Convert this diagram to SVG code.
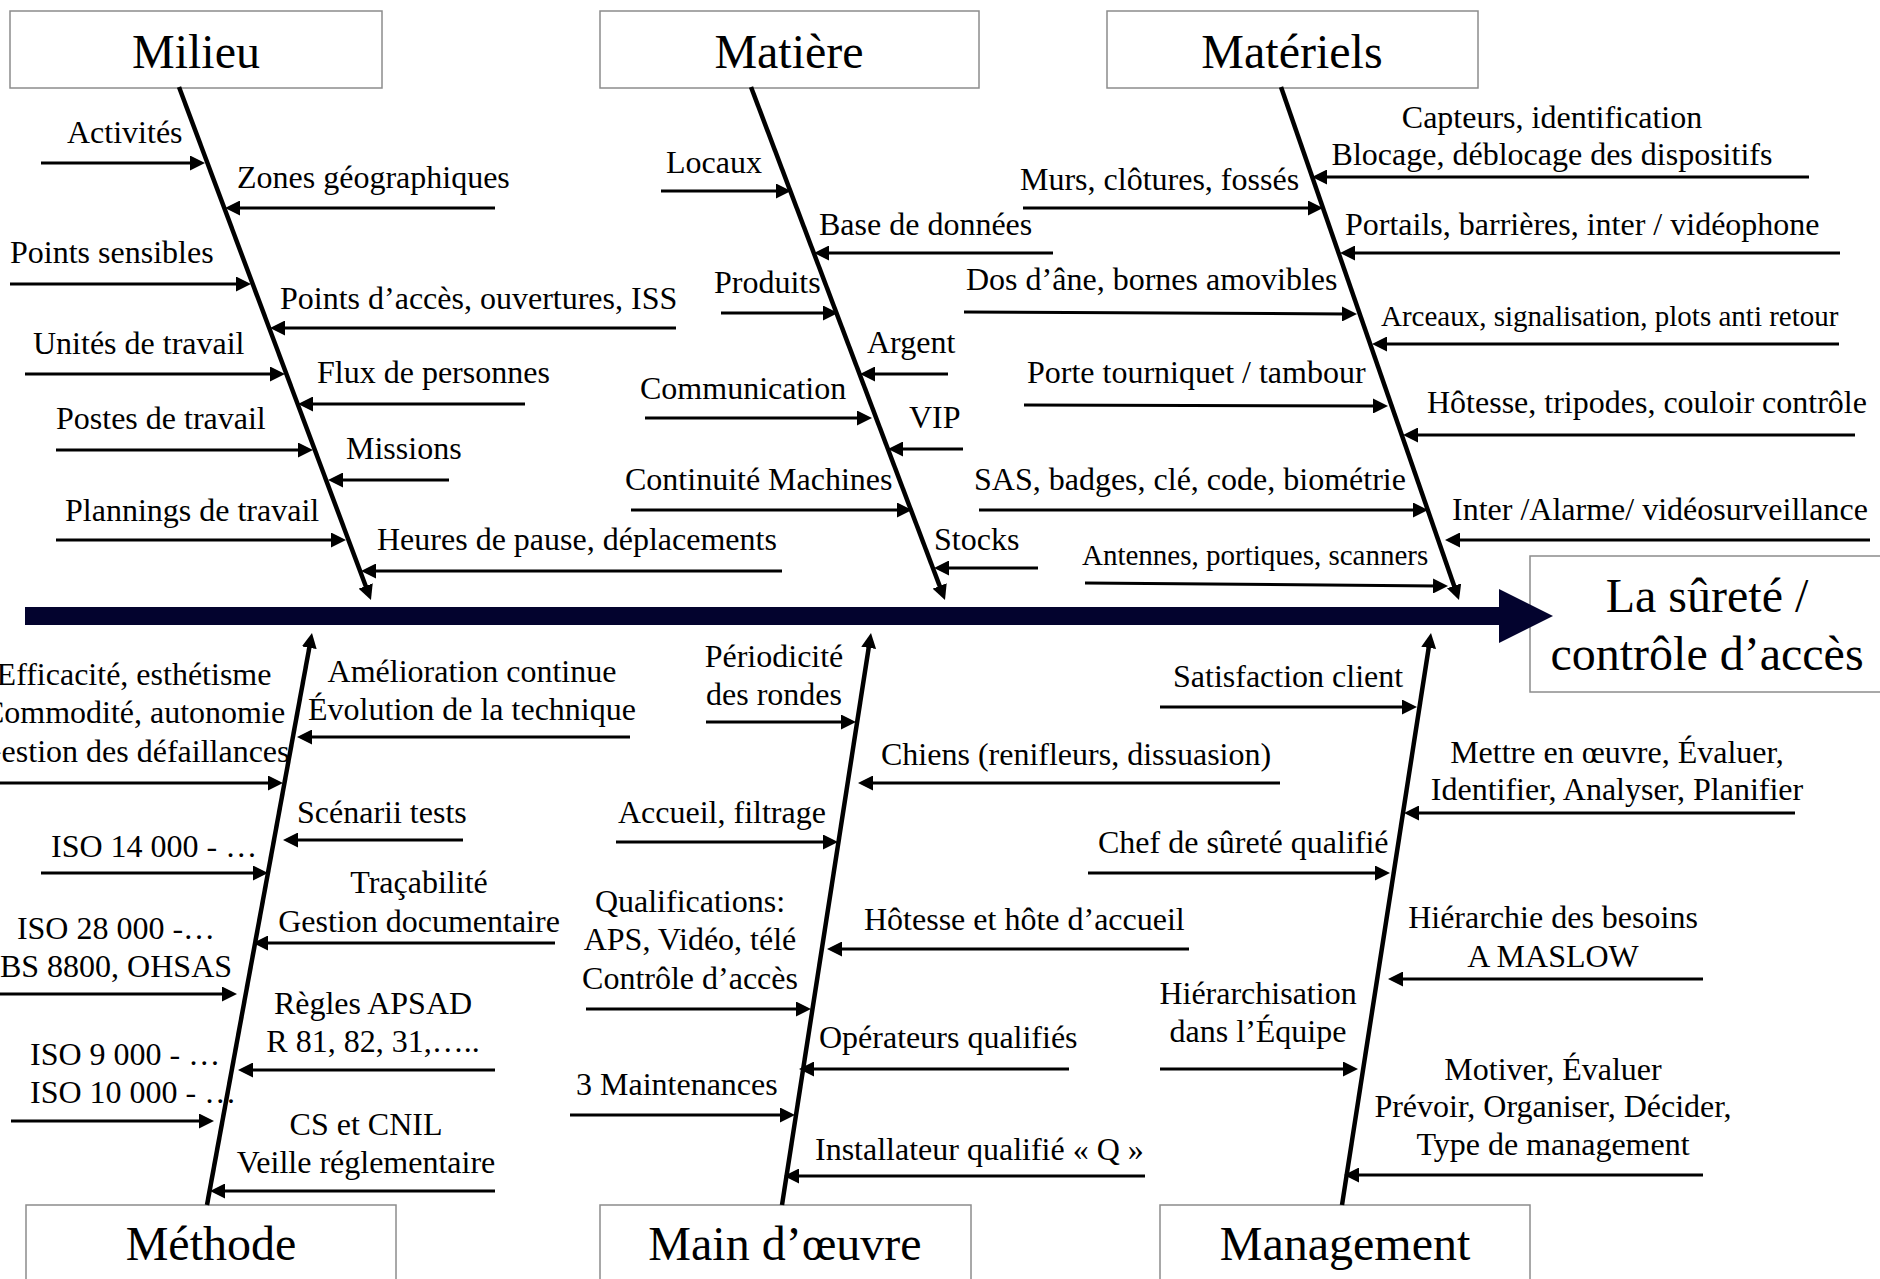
<svg xmlns="http://www.w3.org/2000/svg" width="1880" height="1279" viewBox="0 0 1880 1279">
<style>
text{font-family:"Liberation Serif","Times New Roman",serif;fill:#000}
.t{font-size:32px}
.s{font-size:29px}
.c{font-size:48px;text-anchor:middle}
.m{text-anchor:middle}
.box{fill:#fff;stroke:#8c8c8c;stroke-width:1.5}
.br{stroke:#000;stroke-width:3;fill:none;marker-end:url(#ah)}
.bone{stroke:#000;stroke-width:4.5;fill:none;marker-end:url(#ah)}
</style>
<defs>
<marker id="ah" markerUnits="userSpaceOnUse" markerWidth="15" markerHeight="15" refX="4" refY="7.5" orient="auto">
<path d="M0,0 L15,7.5 L0,15 z" fill="#000"/>
</marker>
</defs>
<rect width="1880" height="1279" fill="#fff"/>

<g id="effect">
<rect class="box" x="1530" y="556" width="400" height="136"/>
<text class="c" x="1707" y="612">La sûreté /</text>
<text class="c" x="1707" y="670">contrôle d’accès</text>
</g>

<g id="spine">
<rect x="25" y="607" width="1475" height="18" fill="#03032e"/>
<polygon points="1499,589 1553,616 1499,643" fill="#03032e"/>
</g>

<g id="milieu">
<rect class="box" x="10" y="11" width="372" height="77"/>
<text class="c" x="196" y="68">Milieu</text>
</g>
<g id="matiere">
<rect class="box" x="600" y="11" width="379" height="77"/>
<text class="c" x="789" y="68">Matière</text>
</g>
<g id="materiels">
<rect class="box" x="1107" y="11" width="371" height="77"/>
<text class="c" x="1292" y="68">Matériels</text>
</g>
<g id="methode">
<rect class="box" x="26" y="1205" width="370" height="90"/>
<text class="c" x="211" y="1260">Méthode</text>
</g>
<g id="main-oeuvre">
<rect class="box" x="600" y="1205" width="371" height="90"/>
<text class="c" x="785" y="1260">Main d’œuvre</text>
</g>
<g id="management">
<rect class="box" x="1160" y="1205" width="370" height="90"/>
<text class="c" x="1345" y="1260">Management</text>
</g>

<g id="connectors">
<line class="bone" x1="179" y1="87" x2="367.1" y2="589.7"/>
<line class="bone" x1="751" y1="87" x2="941.1" y2="589.7"/>
<line class="bone" x1="1281" y1="87" x2="1455.4" y2="589.6"/>
<line class="bone" x1="207" y1="1205" x2="310" y2="643.8"/>
<line class="bone" x1="782" y1="1205" x2="869.3" y2="643.9"/>
<line class="bone" x1="1342" y1="1205" x2="1429.3" y2="643.9"/>

<line class="br" x1="41" y1="163" x2="194" y2="163"/>
<line class="br" x1="495" y1="208" x2="236" y2="208"/>
<line class="br" x1="10" y1="284" x2="240" y2="284"/>
<line class="br" x1="676" y1="328" x2="281" y2="328"/>
<line class="br" x1="25" y1="374" x2="274" y2="374"/>
<line class="br" x1="525" y1="404" x2="309" y2="404"/>
<line class="br" x1="56" y1="450" x2="302" y2="450"/>
<line class="br" x1="449" y1="480" x2="339" y2="480"/>
<line class="br" x1="56" y1="540" x2="335" y2="540"/>
<line class="br" x1="782" y1="571" x2="372" y2="571"/>

<line class="br" x1="661" y1="191" x2="780" y2="191"/>
<line class="br" x1="1053" y1="253" x2="825" y2="253"/>
<line class="br" x1="721" y1="313" x2="827" y2="313"/>
<line class="br" x1="948" y1="374" x2="871" y2="374"/>
<line class="br" x1="645" y1="418" x2="861" y2="418"/>
<line class="br" x1="963" y1="449" x2="899" y2="449"/>
<line class="br" x1="631" y1="510" x2="901" y2="510"/>
<line class="br" x1="1038" y1="568" x2="945" y2="568"/>

<line class="br" x1="1809" y1="177" x2="1323" y2="177"/>
<line class="br" x1="1023" y1="208" x2="1312" y2="208"/>
<line class="br" x1="1840" y1="253" x2="1351" y2="253"/>
<line class="br" x1="964" y1="312" x2="1346" y2="314"/>
<line class="br" x1="1839" y1="344" x2="1383" y2="344"/>
<line class="br" x1="1024" y1="405" x2="1377" y2="406"/>
<line class="br" x1="1855" y1="435" x2="1414" y2="435"/>
<line class="br" x1="979" y1="510" x2="1417" y2="510"/>
<line class="br" x1="1870" y1="540" x2="1456" y2="540"/>
<line class="br" x1="1085" y1="583" x2="1437" y2="586"/>

<line class="br" x1="0" y1="783" x2="272" y2="783"/>
<line class="br" x1="630" y1="737" x2="308" y2="737"/>
<line class="br" x1="463" y1="840" x2="294" y2="840"/>
<line class="br" x1="41" y1="873" x2="257" y2="873"/>
<line class="br" x1="555" y1="943" x2="264" y2="943"/>
<line class="br" x1="0" y1="994" x2="226" y2="994"/>
<line class="br" x1="495" y1="1070" x2="249" y2="1070"/>
<line class="br" x1="11" y1="1121" x2="203" y2="1121"/>
<line class="br" x1="495" y1="1191" x2="221" y2="1191"/>

<line class="br" x1="706" y1="722" x2="845" y2="722"/>
<line class="br" x1="1280" y1="783" x2="869" y2="783"/>
<line class="br" x1="616" y1="842" x2="827" y2="842"/>
<line class="br" x1="586" y1="1009" x2="800" y2="1009"/>
<line class="br" x1="1189" y1="949" x2="838" y2="949"/>
<line class="br" x1="1069" y1="1069" x2="810" y2="1069"/>
<line class="br" x1="570" y1="1115" x2="784" y2="1115"/>
<line class="br" x1="1145" y1="1176" x2="795" y2="1176"/>

<line class="br" x1="1160" y1="707" x2="1406" y2="707"/>
<line class="br" x1="1795" y1="813" x2="1415" y2="813"/>
<line class="br" x1="1088" y1="873" x2="1379" y2="873"/>
<line class="br" x1="1703" y1="979" x2="1399" y2="979"/>
<line class="br" x1="1160" y1="1069" x2="1347" y2="1069"/>
<line class="br" x1="1703" y1="1175" x2="1355" y2="1175"/>
</g>

<g id="labels-milieu" class="t">
<text x="67" y="143">Activités</text>
<text x="237" y="188">Zones géographiques</text>
<text x="10" y="263">Points sensibles</text>
<text x="280" y="309">Points d’accès, ouvertures, ISS</text>
<text x="33" y="354">Unités de travail</text>
<text x="317" y="383">Flux de personnes</text>
<text x="56" y="429">Postes de travail</text>
<text x="346" y="459">Missions</text>
<text x="65" y="521">Plannings de travail</text>
<text x="377" y="550">Heures de pause, déplacements</text>
</g>

<g id="labels-matiere" class="t">
<text x="666" y="173">Locaux</text>
<text x="819" y="235">Base de données</text>
<text x="714" y="293">Produits</text>
<text x="867" y="353">Argent</text>
<text x="640" y="399">Communication</text>
<text x="909" y="428">VIP</text>
<text x="625" y="490">Continuité Machines</text>
<text x="934" y="550">Stocks</text>
</g>

<g id="labels-materiels" class="t">
<text class="m" x="1552" y="128">Capteurs, identification</text>
<text class="m" x="1552" y="165">Blocage, déblocage des dispositifs</text>
<text x="1020" y="190">Murs, clôtures, fossés</text>
<text x="1345" y="235">Portails, barrières, inter / vidéophone</text>
<text x="966" y="290">Dos d’âne, bornes amovibles</text>
<text class="s" x="1381" y="326">Arceaux, signalisation, plots anti retour</text>
<text x="1027" y="383">Porte tourniquet / tambour</text>
<text x="1427" y="413">Hôtesse, tripodes, couloir contrôle</text>
<text x="974" y="490">SAS, badges, clé, code, biométrie</text>
<text x="1452" y="520">Inter /Alarme/ vidéosurveillance</text>
<text class="s" x="1082" y="565">Antennes, portiques, scanners</text>
</g>

<g id="labels-methode" class="t">
<text class="m" x="134" y="685">Efficacité, esthétisme</text>
<text class="m" x="134" y="723">Commodité, autonomie</text>
<text class="m" x="134" y="762">Gestion des défaillances</text>
<text class="m" x="472" y="682">Amélioration continue</text>
<text class="m" x="472" y="720">Évolution de la technique</text>
<text x="297" y="823">Scénarii tests</text>
<text x="51" y="857">ISO 14 000 - …</text>
<text class="m" x="419" y="893">Traçabilité</text>
<text class="m" x="419" y="932">Gestion documentaire</text>
<text class="m" x="116" y="939">ISO 28 000 -…</text>
<text class="m" x="116" y="977">BS 8800, OHSAS</text>
<text class="m" x="373" y="1014">Règles APSAD</text>
<text class="m" x="373" y="1052">R 81, 82, 31,…..</text>
<text x="30" y="1065">ISO 9 000 - …</text>
<text x="30" y="1103">ISO 10 000 - …</text>
<text class="m" x="366" y="1135">CS et CNIL</text>
<text class="m" x="366" y="1173">Veille réglementaire</text>
</g>

<g id="labels-main-oeuvre" class="t">
<text class="m" x="774" y="667">Périodicité</text>
<text class="m" x="774" y="705">des rondes</text>
<text x="881" y="765">Chiens (renifleurs, dissuasion)</text>
<text x="618" y="823">Accueil, filtrage</text>
<text class="m" x="690" y="912">Qualifications:</text>
<text class="m" x="690" y="950">APS, Vidéo, télé</text>
<text class="m" x="690" y="989">Contrôle d’accès</text>
<text x="864" y="930">Hôtesse et hôte d’accueil</text>
<text x="819" y="1048">Opérateurs qualifiés</text>
<text x="576" y="1095">3 Maintenances</text>
<text x="815" y="1160">Installateur qualifié « Q »</text>
</g>

<g id="labels-management" class="t">
<text x="1173" y="687">Satisfaction client</text>
<text class="m" x="1617" y="763">Mettre en œuvre, Évaluer,</text>
<text class="m" x="1617" y="800">Identifier, Analyser, Planifier</text>
<text x="1098" y="853">Chef de sûreté qualifié</text>
<text class="m" x="1553" y="928">Hiérarchie des besoins</text>
<text class="m" x="1553" y="967">A MASLOW</text>
<text class="m" x="1258" y="1004">Hiérarchisation</text>
<text class="m" x="1258" y="1042">dans l’Équipe</text>
<text class="m" x="1553" y="1080">Motiver, Évaluer</text>
<text class="m" x="1553" y="1117">Prévoir, Organiser, Décider,</text>
<text class="m" x="1553" y="1155">Type de management</text>
</g>
</svg>
